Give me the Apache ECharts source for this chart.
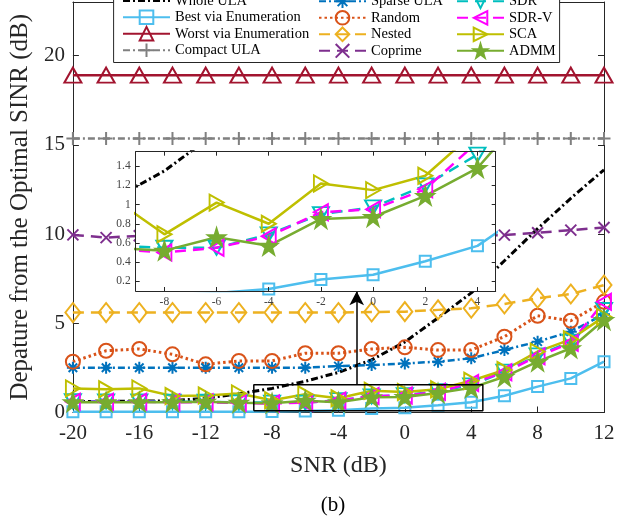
<!DOCTYPE html>
<html><head><meta charset="utf-8">
<script src="https://cdn.jsdelivr.net/npm/echarts@6/dist/echarts.min.js"></script>
<style>html,body{margin:0;padding:0;background:#fff}#c{width:621px;height:516px}</style>
</head><body><div id="c"></div>
<script>
// ---------- data ----------
const snr = [-20,-18,-16,-14,-12,-10,-8,-6,-4,-2,0,2,4,6,8,10,12];
const xTicks = [-20,-16,-12,-8,-4,0,4,8,12];
const yTicks = [0,5,10,15,20];
const wholeULA = [0.62,0.62,0.63,0.66,0.8,1.05,1.35,1.75,2.25,2.95,3.95,5.3,6.7,8.5,10.3,12.0,13.6];
const best     = [0.04,0.04,0.04,0.04,0.04,0.04,0.05,0.08,0.12,0.22,0.27,0.41,0.57,0.94,1.45,1.91,2.85];
const worst    = [18.9,18.9,18.9,18.9,18.9,18.9,18.9,18.9,18.9,18.9,18.9,18.9,18.9,18.9,18.9,18.9,18.9];
const compact  = [15.35,15.35,15.35,15.35,15.35,15.35,15.35,15.35,15.35,15.35,15.35,15.35,15.35,15.35,15.35,15.35,15.35];
const sparse   = [2.51,2.51,2.51,2.51,2.51,2.51,2.51,2.51,2.6,2.66,2.75,2.85,3.04,3.5,3.97,4.53,5.5];
const random   = [2.85,3.46,3.56,3.26,2.7,2.89,2.89,3.32,3.32,3.56,3.65,3.5,3.5,4.25,5.42,5.14,6.2];
const nested   = [5.6,5.6,5.6,5.6,5.6,5.6,5.6,5.6,5.6,5.63,5.65,5.75,5.84,6.08,6.4,6.64,7.14];
const coprime  = [9.95,9.8,9.9,9.9,9.9,9.9,9.9,9.9,9.9,9.9,9.9,9.9,9.9,9.94,10.07,10.22,10.37];
const sdr      = [0.63,0.62,0.62,0.6,0.6,0.57,0.55,0.55,0.69,0.9,0.97,1.2,1.52,2.29,3.2,3.97,5.74];
const sdrv     = [0.6,0.6,0.6,0.58,0.58,0.54,0.5,0.55,0.67,0.92,0.95,1.16,1.65,2.25,3.15,3.9,6.2];
const sca      = [1.35,1.3,1.35,0.92,0.95,1.07,0.69,1.02,0.8,1.22,1.15,1.3,1.78,2.38,3.41,4.1,5.37];
const admm     = [0.58,0.58,0.58,0.58,0.6,0.55,0.52,0.66,0.57,0.85,0.87,1.09,1.38,2.0,2.85,3.6,5.18];
// inset (zoom) window and arrow
const insetX = [-9.1, 4.7];
const insetY = [0.1, 1.55];
const insetXTicks = [-8,-6,-4,-2,0,2,4];
const insetYTicks = [0.2,0.4,0.6,0.8,1,1.2,1.4];
const arrowX = -2.9;
const arrowY = [1.55, 6.8];

// ---------- layout / style ----------
const FONT = 'Liberation Serif';
const AX = '#262626';
const MAIN = {left:72.5, right:17, top:2, bottom:103.5};
const INS = {left:135.7, top:151.7, width:360, height:139.3};
const STAR = 'path://M0,-10L2.245,-3.09L9.51,-3.09L3.633,1.18L5.878,8.09L0,3.82L-5.878,8.09L-3.633,1.18L-9.51,-3.09L-2.245,-3.09Z';
const PLUS = 'path://M0,-1L0,1M-1,0L1,0';
const XS = 'path://M-1,-1L1,1M-1,1L1,-1';
const AST = 'path://M0,-1L0,1M-1,0L1,0M-0.71,-0.71L0.71,0.71M-0.71,0.71L0.71,-0.71';
const DD = [7,3,2,3];
const DASH = [11,7];

const defs = [
 {name:'Whole ULA', data:wholeULA, color:'#000000', type:DD, width:3, symbol:'circle', size:1, hidden:true},
 {name:'Best via Enumeration', data:best, color:'#4DBEEE', type:'solid', symbol:'rect', size:11},
 {name:'Worst via Enumeration', data:worst, color:'#A2142F', type:'solid', symbol:'triangle', size:[17,15]},
 {name:'Compact ULA', data:compact, color:'#808080', type:DD, symbol:PLUS, size:13},
 {name:'Sparse ULA', data:sparse, color:'#0072BD', type:DD, symbol:AST, size:12},
 {name:'Random', data:random, color:'#D95319', type:[2.5,3], width:3, symbol:'circle', size:14},
 {name:'Nested', data:nested, color:'#EDB120', type:DASH, symbol:'diamond', size:[15,19]},
 {name:'Coprime', data:coprime, color:'#7E2F8E', type:DASH, symbol:XS, size:11},
 {name:'SDR', data:sdr, color:'#00BFBF', type:DASH, symbol:'triangle', rotate:180, size:[16,14]},
 {name:'SDR-V', data:sdrv, color:'#FF00FF', type:DASH, symbol:'triangle', rotate:90, size:[16,14]},
 {name:'SCA', data:sca, color:'#BFBF00', type:'solid', symbol:'triangle', rotate:-90, size:[16,14]},
 {name:'ADMM', data:admm, color:'#77AC30', type:'solid', symbol:STAR, size:17, filled:true}
];

function mkSeries(d, xi, yi, z) {
  const clear = 'rgba(255,255,255,0)';
  return {
    name: d.name, type: 'line', xAxisIndex: xi, yAxisIndex: yi, z: z,
    data: snr.map((x, i) => [x, d.data[i]]),
    symbol: d.symbol, symbolSize: d.size || 10, symbolRotate: d.rotate || 0,
    showSymbol: !d.hidden, showAllSymbol: true, clip: true, silent: true,
    lineStyle: {color: d.color, width: d.width || 2.5, type: d.type, cap: 'butt'},
    itemStyle: {color: d.filled ? d.color : clear, borderColor: d.hidden ? clear : d.color, borderWidth: d.hidden ? 0 : 2},
    emphasis: {disabled: true}
  };
}

const series = [];
defs.forEach(d => series.push(mkSeries(d, 0, 0, 2)));
// zoom rectangle + arrow on main axes
series.push({
  type: 'line', xAxisIndex: 0, yAxisIndex: 0, z: 3, silent: true, symbol: 'none',
  data: [[insetX[0],insetY[0]],[insetX[1],insetY[0]],[insetX[1],insetY[1]],[insetX[0],insetY[1]],[insetX[0],insetY[0]]],
  lineStyle: {color: '#000', width: 1.5},
  markLine: {
    silent: true, symbol: ['none','arrow'], symbolSize: [11,14], label: {show: false},
    lineStyle: {color: '#000', width: 1.5, type: 'solid'},
    data: [[{coord: [arrowX, arrowY[0]]}, {coord: [arrowX, arrowY[1]]}]]
  }
});
defs.forEach(d => series.push(mkSeries(d, 2, 2, 4)));

const legendCols = [
  {left:117, names:['Whole ULA','Best via Enumeration','Worst via Enumeration','Compact ULA']},
  {left:313, names:['Sparse ULA','Random','Nested','Coprime']},
  {left:451, names:['SDR','SDR-V','SCA','ADMM']}
];
const legend = legendCols.map(c => ({
  orient: 'vertical', left: c.left, top: -11.5, z: 11,
  itemWidth: 47, itemHeight: 17, itemGap: 0.9, itemTextGap: 2,
  selectedMode: false, data: c.names,
  textStyle: {fontFamily: FONT, fontSize: 14.5, color: '#000', lineHeight: 15}
}));

const labelStyle = (fs, m) => ({fontFamily: FONT, fontSize: fs, color: AX, margin: m});

const option = {
  animation: false,
  backgroundColor: '#fff',
  grid: [
    {left: MAIN.left, right: MAIN.right, top: MAIN.top, bottom: MAIN.bottom, containLabel: false},
    {left: INS.left, top: INS.top, width: INS.width, height: INS.height, containLabel: false}
  ],
  legend: legend,
  xAxis: [
    {gridIndex:0, type:'value', min:-20, max:12, interval:4, position:'bottom',
     axisLine:{onZero:false, lineStyle:{color:AX, width:1}},
     axisTick:{inside:true, length:6, lineStyle:{color:AX}},
     axisLabel: labelStyle(21, 10), splitLine:{show:false},
     name:'SNR (dB)', nameLocation:'middle', nameGap:41,
     nameTextStyle:{fontFamily:FONT, fontSize:24, color:AX}},
    {gridIndex:0, type:'value', min:-20, max:12, interval:4, position:'top',
     axisLine:{onZero:false, lineStyle:{color:AX, width:1}},
     axisTick:{inside:true, length:6, lineStyle:{color:AX}},
     axisLabel:{show:false}, splitLine:{show:false}},
    {gridIndex:1, type:'value', min:insetX[0], max:insetX[1], position:'bottom', z:5,
     axisLine:{onZero:false, lineStyle:{color:AX, width:1}},
     axisTick:{inside:true, length:4, lineStyle:{color:AX}, customValues: insetXTicks},
     axisLabel: Object.assign(labelStyle(11.5, 5), {customValues: insetXTicks, color:'#444'}),
     splitLine:{show:false}},
    {gridIndex:1, type:'value', min:insetX[0], max:insetX[1], position:'top', z:5,
     axisLine:{onZero:false, lineStyle:{color:AX, width:1}},
     axisTick:{inside:true, length:4, lineStyle:{color:AX}, customValues: insetXTicks},
     axisLabel:{show:false}, splitLine:{show:false}}
  ],
  yAxis: [
    {gridIndex:0, type:'value', min:0, max:23, position:'left',
     axisLine:{onZero:false, lineStyle:{color:AX, width:1}},
     axisTick:{inside:true, length:6, lineStyle:{color:AX}, customValues: yTicks},
     axisLabel: Object.assign(labelStyle(21, 8), {customValues: yTicks}),
     splitLine:{show:false},
     name:'Depature from the Optimal SINR (dB)', nameLocation:'middle', nameGap:35, nameRotate:90,
     nameTextStyle:{fontFamily:FONT, fontSize:25, color:AX}},
    {gridIndex:0, type:'value', min:0, max:23, position:'right',
     axisLine:{onZero:false, lineStyle:{color:AX, width:1}},
     axisTick:{inside:true, length:6, lineStyle:{color:AX}, customValues: yTicks},
     axisLabel:{show:false}, splitLine:{show:false}},
    {gridIndex:1, type:'value', min:insetY[0], max:insetY[1], position:'left', z:5,
     axisLine:{onZero:false, lineStyle:{color:AX, width:1}},
     axisTick:{inside:true, length:4, lineStyle:{color:AX}, customValues: insetYTicks},
     axisLabel: Object.assign(labelStyle(11.5, 5), {customValues: insetYTicks, color:'#444'}),
     splitLine:{show:false}},
    {gridIndex:1, type:'value', min:insetY[0], max:insetY[1], position:'right', z:5,
     axisLine:{onZero:false, lineStyle:{color:AX, width:1}},
     axisTick:{inside:true, length:4, lineStyle:{color:AX}, customValues: insetYTicks},
     axisLabel:{show:false}, splitLine:{show:false}}
  ],
  graphic: [
    {type:'rect', z:3, silent:true, shape:{x:INS.left, y:INS.top, width:INS.width, height:INS.height}, style:{fill:'#fff'}},
    {type:'rect', z:10, silent:true, shape:{x:113.6, y:-20, width:446, height:82.5}, style:{fill:'#fff', stroke:AX, lineWidth:1}},
    {type:'text', z:10, silent:true, x:333, y:505, style:{text:'(b)', fontFamily:FONT, fontSize:21, fill:'#000', textAlign:'center', textVerticalAlign:'middle'}}
  ],
  series: series
};
const chart = echarts.init(document.getElementById('c'));
chart.setOption(option);
</script>
</body></html>
